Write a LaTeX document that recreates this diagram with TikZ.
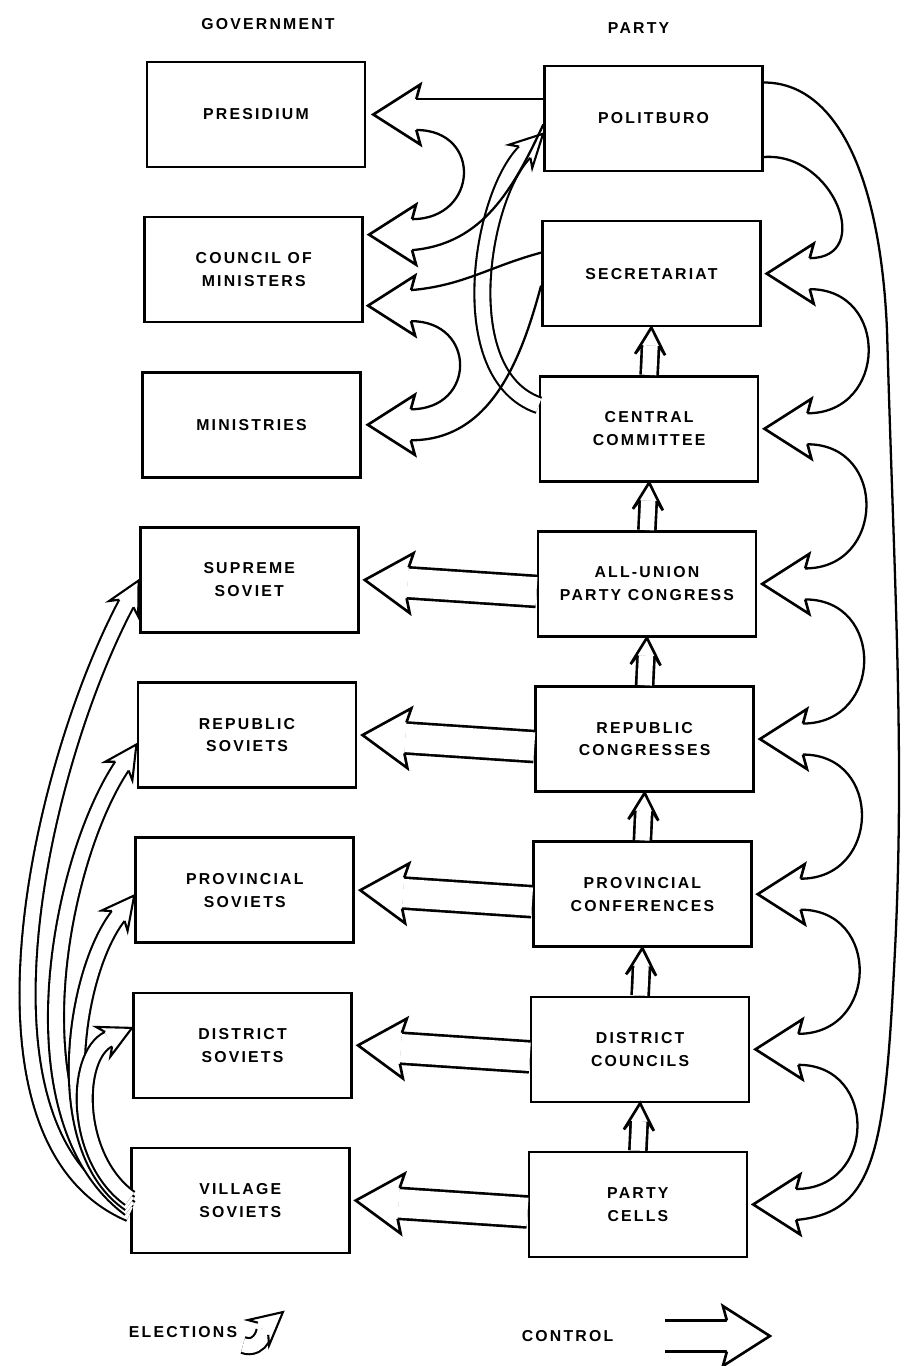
\documentclass[tikz,border=0pt]{standalone}
\usepackage{fontspec}
\setmainfont{Liberation Sans}[LetterSpace=14]
\usetikzlibrary{positioning,calc,decorations.markings}

\begin{document}
\begin{tikzpicture}[
node distance=0.95cm,
box/.style={
draw,
line width=1.5pt,
align=center,
minimum width=4.36cm,
minimum height=2.1cm,
font=\bfseries\fontsize{9}{13}\selectfont
},
heading/.style={
font=\bfseries\fontsize{9}{13}\selectfont
},
arc/.style={
line width=1.3pt
},
bighead/.pic={
\fill[white] (0,0) -- (-0.94,0.6) -- (-0.86,0.31) -- (-0.86,-0.31) -- (-0.94,-0.6) -- cycle;
\draw (-0.86,0.31) -- (-0.94,0.6) -- (0,0) -- (-0.94,-0.6) -- (-0.86,-0.31);
\coordinate (-up) at (-0.86,0.31);
\coordinate (-dn) at (-0.86,-0.31);
},
uphead/.pic={
\fill[white] (0,0) -- (-0.54,0.3) -- (-0.36,0.17) -- (-0.36,-0.17) -- (-0.54,-0.3) -- cycle;
\draw (-0.36,0.17) -- (-0.54,0.3) -- (0,0) -- (-0.54,-0.3) -- (-0.36,-0.17);
},
elhead/.pic={
\fill[white] (0,0) -- (-0.64,0.33) -- (-0.52,0.16) -- (-0.52,-0.16) -- (-0.64,-0.33) -- cycle;
\draw (-0.52,0.16) -- (-0.64,0.33) -- (0,0) -- (-0.64,-0.33) -- (-0.52,-0.16);
},
ctrl/.style={
line width=1.5pt,
preaction={draw, double=white, double distance=0.567cm, shorten >=0.86cm},
postaction={decorate, decoration={markings, mark=at position 0.999 with {\pic[transform shape] {bighead};}}}
},
upctrl/.style={
line width=1.5pt,
preaction={draw, double=white, double distance=0.287cm, shorten >=0.36cm},
postaction={decorate, decoration={markings, mark=at position 0.999 with {\pic[transform shape] {uphead};}}}
},
elect/.style={
line width=1.2pt,
preaction={draw, double=white, double distance=0.278cm, shorten >=0.52cm},
postaction={decorate, decoration={markings, mark=at position 0.999 with {\pic[transform shape] {elhead};}}}
}
]

\useasboundingbox (0,0) rectangle (18.08,-27.32);

% Government column

\node (presidium) [box] at (5.12,-2.29) {PRESIDIUM};
\node (council) [box, below=of presidium, xshift=-0.045cm] {COUNCIL OF\\MINISTERS};
\node (ministries) [box, below=of council, xshift=-0.045cm] {MINISTRIES};
\node (supreme) [box, below=of ministries, xshift=-0.045cm] {SUPREME\\SOVIET};
\node (repsov) [box, below=of supreme, xshift=-0.045cm] {REPUBLIC\\SOVIETS};
\node (provsov) [box, below=of repsov, xshift=-0.045cm] {PROVINCIAL\\SOVIETS};
\node (distsov) [box, below=of provsov, xshift=-0.045cm] {DISTRICT\\SOVIETS};
\node (village) [box, below=of distsov, xshift=-0.045cm] {VILLAGE\\SOVIETS};

\node (govhead) [heading, above=0.5cm of presidium, xshift=0.24cm] {GOVERNMENT};


% Party column

\node (politburo) [box, right=3.54cm of presidium, yshift=-0.08cm] {POLITBURO};
\node (secretariat) [box, below=of politburo, xshift=-0.045cm] {SECRETARIAT};
\node (central) [box, below=of secretariat, xshift=-0.045cm] {CENTRAL\\COMMITTEE};
\node (congress) [box, below=of central, xshift=-0.045cm] {ALL-UNION\\PARTY CONGRESS};
\node (repcong) [box, below=of congress, xshift=-0.045cm] {REPUBLIC\\CONGRESSES};
\node (provconf) [box, below=of repcong, xshift=-0.045cm] {PROVINCIAL\\CONFERENCES};
\node (distcoun) [box, below=of provconf, xshift=-0.045cm] {DISTRICT\\COUNCILS};
\node (cells) [box, below=of distcoun, xshift=-0.045cm] {PARTY\\CELLS};

\node (partyhead) [heading, above=0.5cm of politburo, xshift=-0.3cm] {PARTY};


% Control upwards inside the party

\foreach \a/\b in {central/secretariat, congress/central, repcong/congress, provconf/repcong, distcoun/provconf, cells/distcoun}
\path[upctrl] (\a.north) -- (\b.south);


% Control from party to soviets

\foreach \p/\g in {congress/supreme, repcong/repsov, provconf/provsov, distcoun/distsov, cells/village}
\path[ctrl] ($(\p.west)+(0,-0.15)$) -- ($(\g.east)+(0.1,0)$);


% Elections

\path[elect] ($(village.west)+(0,-0.26)$) .. controls +(-3.5,1.5) and +(-2.0,-3.76) .. (supreme.west);
\path[elect] ($(village.west)+(0,-0.16)$) .. controls +(-2.42,1.8) and +(-1.56,-2.33) .. ($(repsov.west)+(0,-0.18)$);
\path[elect] ($(village.west)+(0,-0.06)$) .. controls +(-1.62,1.1) and +(-1.22,-1.56) .. ($(provsov.west)+(0,-0.1)$);
\path[elect] ($(village.west)+(0,0.04)$) .. controls +(-1.12,0.8) and +(-1.17,-0.56) .. ($(distsov.west)+(0,0.35)$);

% central committee elects the politburo
\path[elect] ($(central.west)+(0,0.47)$) .. controls +(-1.74,0.6) and +(-1.26,-1.26) .. ($(politburo.west)+(0,-0.3)$);


% Politburo and secretariat over the government

\pic[xscale=-1, line width=1.5pt] (hpres) at ($(presidium.east)+(0.14,0)$) {bighead};
\pic[xscale=-1, line width=1.5pt] (hcm1) at ($(council.east)+(0.1,0.7)$) {bighead};
\pic[xscale=-1, line width=1.5pt] (hcm2) at ($(council.east)+(0.08,-0.72)$) {bighead};
\pic[xscale=-1, line width=1.5pt] (hmin) at ($(ministries.east)+(0.12,0)$) {bighead};

\draw[arc] (hpres-up) -- (hpres-up -| politburo.west);
\draw[arc] (hpres-dn) to[out=0, in=0, looseness=1.9] (hcm1-up);
\draw[arc] (hcm1-dn) to[out=5, in=245] ($(politburo.west)+(0,-0.12)$);
\draw[arc] (hcm2-up) to[out=5, in=195] ($(secretariat.west)+(0,0.42)$);
\draw[arc] (hcm2-dn) to[out=0, in=0, looseness=1.9] (hmin-up);
\draw[arc] (hmin-dn) to[out=0, in=255] ($(secretariat.west)+(0,-0.24)$);


% Politburo over the whole party

\foreach \n in {secretariat, central, congress, repcong, provconf, distcoun, cells}
\pic[xscale=-1, line width=1.5pt] (h\n) at ($(\n.east)+(0.1,0)$) {bighead};

\foreach \a/\b in {secretariat/central, central/congress, congress/repcong, repcong/provconf, provconf/distcoun, distcoun/cells}
\draw[arc] (h\a-dn) to[out=0, in=0, looseness=1.65] (h\b-up);

\draw[arc] ($(politburo.east)+(0,-0.77)$) .. controls +(1.4,0.1) and +(1.3,0) .. (hsecretariat-up);
\draw[arc] ($(politburo.east)+(0,0.72)$) .. controls +(1.4,0) and +(-0.14,3.2) .. (17.74,-6.6)
.. controls +(0.14,-5) and +(0.2,4) .. (17.9,-19)
.. controls +(-0.2,-4) and +(1.6,0.15) .. (hcells-dn);


% Legend

\node (elections) [heading] at (3.66,-26.64) {ELECTIONS};
\coordinate (el-a) at (4.86,-26.9);
\coordinate (el-b) at (5.66,-26.24);
\path[elect] (el-a) to[out=-20, in=220] (el-b);

\node (control) [heading] at (11.35,-26.72) {CONTROL};
\coordinate (ct-a) at (13.3,-26.72);
\coordinate (ct-b) at (15.4,-26.72);
\path[ctrl] (ct-a) -- (ct-b);

\end{tikzpicture}
\end{document}
